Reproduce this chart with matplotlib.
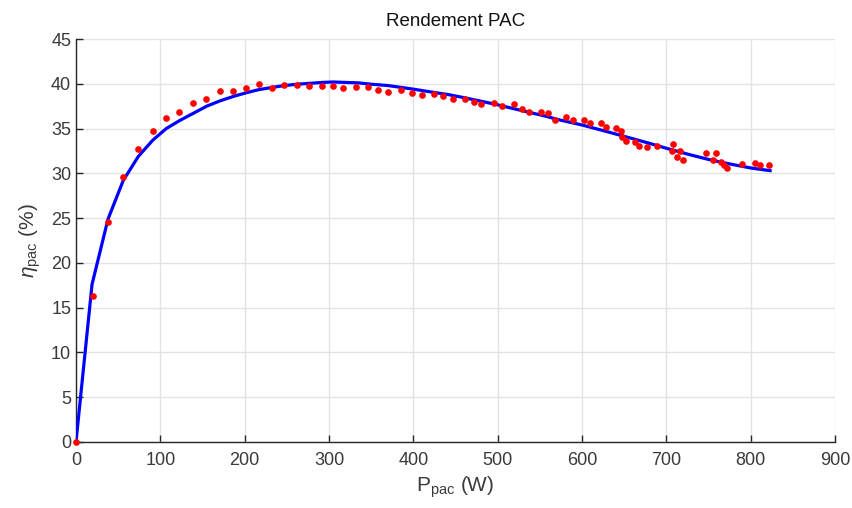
import numpy as np
import matplotlib
matplotlib.use("Agg")
import matplotlib.pyplot as plt

# mesures (points rouges)
p_mes = [0, 19.9, 38.1, 55.9, 73.7, 90.9, 107.2, 122.6, 138.8, 154.5, 171.1, 186.5,
         202.0, 216.9, 232.7, 247.2, 261.5, 276.8, 291.5, 304.6, 316.4, 331.8,
         346.0, 358.6, 370.4, 385.4, 398.5, 410.3, 424.9, 435.5, 446.7, 461.2,
         471.9, 480.2, 495.9, 505.4, 519.6, 528.7, 537.4, 551.2, 559.9, 567.8,
         581.2, 589.1, 602.1, 609.2, 622.3, 629.0, 640.0, 645.9, 647.5, 652.7,
         662.9, 667.3, 677.6, 689.4, 707.9, 706.3, 715.8, 713.1, 719.4, 746.6,
         759.3, 755.2, 764.7, 767.9, 771.8, 790.1, 805.5, 810.5, 821.5]
eta_mes = [0, 16.3, 24.6, 29.6, 32.7, 34.7, 36.2, 36.9, 37.9, 38.3, 39.2, 39.2,
           39.5, 40.0, 39.5, 39.9, 39.9, 39.8, 39.8, 39.8, 39.5, 39.6,
           39.6, 39.3, 39.1, 39.3, 39.0, 38.8, 38.9, 38.6, 38.3, 38.3,
           38.0, 37.7, 37.8, 37.5, 37.7, 37.2, 36.8, 36.9, 36.7, 36.0,
           36.3, 35.9, 35.9, 35.6, 35.6, 35.2, 35.1, 34.7, 34.1, 33.6,
           33.5, 33.0, 32.9, 33.0, 33.3, 32.5, 32.5, 31.8, 31.5, 32.3,
           32.3, 31.5, 31.3, 30.9, 30.6, 31.0, 31.2, 30.9, 30.9]

# courbe d'ajustement (ligne bleue)
p_fit = [0, 19, 38, 56, 74, 91, 107, 123, 139, 155, 171, 187, 202, 217, 233,
         247, 262, 277, 292, 305, 320, 335, 350, 370, 385, 400, 420, 441, 460,
         478, 500, 520, 538, 556, 574, 600, 628, 657, 680, 700, 725, 750, 775,
         800, 823]
eta_fit = [0, 17.6, 24.9, 29.2, 31.9, 33.7, 35.0, 35.9, 36.7, 37.5, 38.1, 38.6,
           39.0, 39.35, 39.6, 39.8, 39.95, 40.05, 40.15, 40.2, 40.15, 40.1,
           39.95, 39.8, 39.6, 39.4, 39.1, 38.8, 38.45, 38.1, 37.65, 37.2,
           36.8, 36.4, 35.95, 35.4, 34.7, 33.95, 33.35, 32.8, 32.15, 31.55,
           31.05, 30.6, 30.3]

plt.rcParams['font.family'] = ['Liberation Sans', 'DejaVu Sans']
plt.rcParams['mathtext.fontset'] = 'custom'
plt.rcParams['mathtext.rm'] = 'Liberation Sans'
plt.rcParams['mathtext.it'] = 'Liberation Sans:italic'

fig = plt.figure(figsize=(8.52, 5.08), dpi=100)
ax = fig.add_axes([76 / 852, 1 - 442 / 508, (835 - 76) / 852, (442 - 39) / 508])

ax.plot(p_fit, eta_fit, color='#0000ff', linewidth=2.3, zorder=3)
ax.plot(p_mes, eta_mes, 'o', color='#ff0000', markersize=4.8, markeredgewidth=0,
        zorder=4, clip_on=False)

ax.set_xlim(0, 900)
ax.set_ylim(0, 45)
ax.set_xticks(np.arange(0, 901, 100))
ax.set_yticks(np.arange(0, 46, 5))
ax.grid(True, color='#e3e3e3', linewidth=1.0)
ax.set_axisbelow(True)

for s in ['top', 'right']:
    ax.spines[s].set_visible(False)
for s in ['left', 'bottom']:
    ax.spines[s].set_color('#262626')
    ax.spines[s].set_linewidth(1.0)

ax.tick_params(direction='in', length=5, width=1.0, colors='#262626',
               labelsize=13, labelcolor='#3a3a3a')
ax.tick_params(axis='x', pad=7)

ax.set_title('Rendement PAC', fontsize=13.5, color='#111111', pad=9)
ax.set_xlabel(r'P$_{\mathrm{pac}}$ (W)', fontsize=15, color='#3a3a3a', labelpad=4)
ax.set_ylabel(r'$\eta_{\mathrm{pac}}$ (%)', fontsize=15, color='#3a3a3a', labelpad=6)

fig.savefig('out.png', dpi=100)
